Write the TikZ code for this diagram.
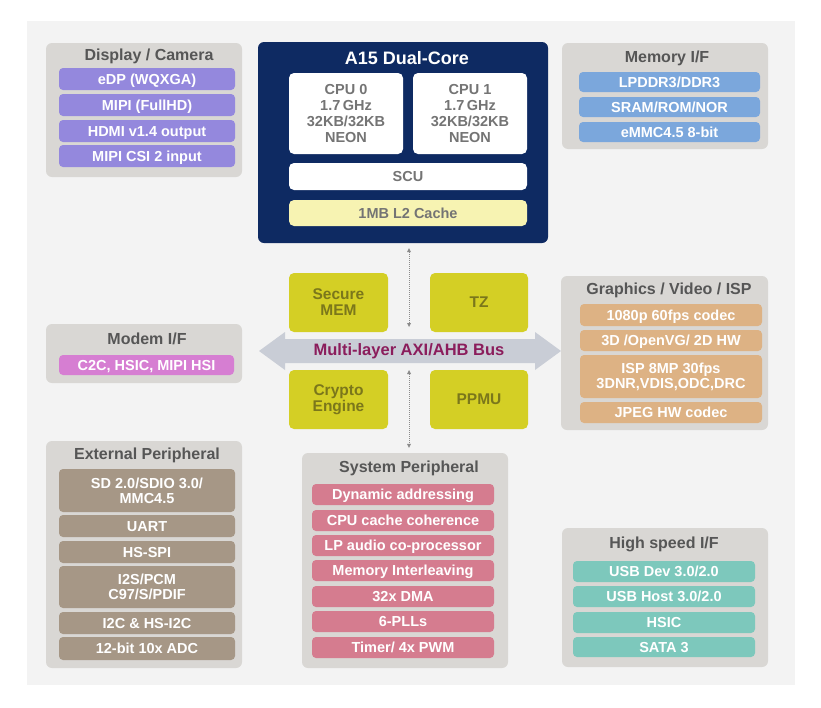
\documentclass[tikz,border=0pt]{standalone}
\usepackage{fontspec}
\setmainfont{Liberation Sans}
\usetikzlibrary{arrows.meta}
\definecolor{bgc}{HTML}{F3F3F3}
\definecolor{panelc}{HTML}{D9D7D4}
\definecolor{titlec}{HTML}{565656}
\definecolor{dispc}{HTML}{9488DD}
\definecolor{memc}{HTML}{7BA7DC}
\definecolor{modc}{HTML}{D67ED2}
\definecolor{gfxc}{HTML}{DDB284}
\definecolor{extc}{HTML}{A69786}
\definecolor{sysc}{HTML}{D57C8F}
\definecolor{hsc}{HTML}{7DC8BC}
\definecolor{navyc}{HTML}{0E2A62}
\definecolor{l2c}{HTML}{F7F3B2}
\definecolor{yelc}{HTML}{D4CF25}
\definecolor{yeltc}{HTML}{7B771B}
\definecolor{busc}{HTML}{C9CDD6}
\definecolor{bustc}{HTML}{8B1D5C}
\definecolor{cputc}{HTML}{747474}
\definecolor{dotc}{HTML}{8A8A8A}
\newcommand\mybox[7]{\node[#1, minimum width={#4pt-#3pt}, minimum height={#6pt-#5pt}] (#2) at ({(#3+#4)/2},{(#5+#6)/2}) {#7};}
\tikzset{
  panel/.style={fill=panelc, rounded corners=6pt, inner sep=0pt},
  ptitle/.style={text=titlec, font=\fontsize{16}{18}\selectfont\bfseries, inner sep=0pt},
  item/.style={rounded corners=4pt, inner sep=0pt, text=white, align=center,
    font=\fontsize{14.5}{15}\selectfont\bfseries, text height=10.5pt, text depth=0pt},
  twoline/.style={text height=, text depth=},
  cpubox/.style={fill=white, rounded corners=5pt, inner sep=0pt, text=cputc, align=center,
    font=\fontsize{14.5}{16}\selectfont\bfseries},
  yelbox/.style={fill=yelc, rounded corners=5pt, inner sep=0pt, text=yeltc, align=center,
    font=\fontsize{15.5}{16}\selectfont\bfseries},
  dotarr/.style={draw=dotc, line width=0.8pt, dash pattern=on 1pt off 1pt,
    {Triangle[length=4pt,width=4pt,fill=dotc,line width=0pt]}-{Triangle[length=4pt,width=4pt,fill=dotc,line width=0pt]}}
}
\begin{document}
\begin{tikzpicture}[x=1pt,y=-1pt]
\useasboundingbox (0,0) rectangle (821,707);
\fill[white] (0,0) rectangle (821,707);
\fill[bgc] (27,21) rectangle (795,685);

% Display / Camera
\mybox{panel}{disp}{46}{242}{43}{177}{}
\node[ptitle] (dispt) at (149,56) {Display / Camera};
\mybox{item,fill=dispc}{d1}{59}{235}{68}{90}{eDP (WQXGA)}
\mybox{item,fill=dispc}{d2}{59}{235}{94}{116}{MIPI (FullHD)}
\mybox{item,fill=dispc}{d3}{59}{235}{120}{142}{HDMI v1.4 output}
\mybox{item,fill=dispc}{d4}{59}{235}{145}{167}{MIPI CSI 2 input}

% Modem I/F
\mybox{panel}{mod}{46}{242}{324}{383}{}
\node[ptitle] (modt) at (147,339) {Modem I/F};
\mybox{item,fill=modc}{m1}{59}{234}{355}{375}{C2C, HSIC, MIPI HSI}

% External Peripheral
\mybox{panel}{ext}{46}{242}{441}{668}{}
\node[ptitle] (extt) at (147,455) {External Peripheral};
\mybox{item,twoline,fill=extc}{e1}{59}{235}{469}{512}{SD 2.0/SDIO 3.0/\\MMC4.5}
\mybox{item,fill=extc}{e2}{59}{235}{515}{537}{UART}
\mybox{item,fill=extc}{e3}{59}{235}{541}{563}{HS-SPI}
\mybox{item,twoline,fill=extc}{e4}{59}{235}{566}{608}{I2S/PCM\\C97/S/PDIF}
\mybox{item,fill=extc}{e5}{59}{235}{612}{634}{I2C \& HS-I2C}
\mybox{item,fill=extc}{e6}{59}{235}{637}{660}{12-bit 10x ADC}

% A15 Dual-Core
\mybox{fill=navyc,rounded corners=6pt,inner sep=0pt}{a15}{258}{548}{42}{243}{}
\node[text=white, font=\fontsize{18}{20}\selectfont\bfseries, inner sep=0pt] (a15t) at (407,58) {A15 Dual-Core};
\mybox{cpubox}{cpu0}{289}{403}{73}{154}{CPU 0\\1.7\,GHz\\32KB/32KB\\NEON}
\mybox{cpubox}{cpu1}{413}{527}{73}{154}{CPU 1\\1.7\,GHz\\32KB/32KB\\NEON}
\mybox{cpubox,text height=10.5pt,text depth=0pt}{scu}{289}{527}{163}{190}{SCU}
\mybox{cpubox,fill=l2c,text height=10.5pt,text depth=0pt}{l2}{289}{527}{200}{226}{1MB L2 Cache}

% Security blocks
\mybox{yelbox}{smem}{289}{388}{273}{332}{Secure\\MEM}
\mybox{yelbox}{tz}{430}{528}{273}{332}{TZ}
\mybox{yelbox}{crypto}{289}{388}{370}{429}{Crypto\\Engine}
\mybox{yelbox}{ppmu}{430}{528}{370}{429}{PPMU}

% Bus
\fill[busc] (259,351) -- (285,332) -- (285,339) -- (535,339) -- (535,332) -- (561,351)
  -- (535,370) -- (535,363) -- (285,363) -- (285,370) -- cycle;
\node[text=bustc, font=\fontsize{16.5}{18}\selectfont\bfseries, inner sep=0pt] (bus) at (409,351) {Multi-layer AXI/AHB Bus};
\coordinate (busN) at (409,327);
\coordinate (busS) at (409,370);

% Memory I/F
\mybox{panel}{mem}{562}{768}{43}{149}{}
\node[ptitle] (memt) at (667,58) {Memory I/F};
\mybox{item,fill=memc}{mm1}{579}{760}{72}{92}{LPDDR3/DDR3}
\mybox{item,fill=memc}{mm2}{579}{760}{97}{117}{SRAM/ROM/NOR}
\mybox{item,fill=memc}{mm3}{579}{760}{122}{142}{eMMC4.5 8-bit}

% Graphics / Video / ISP
\mybox{panel}{gfx}{561}{768}{276}{430}{}
\node[ptitle] (gfxt) at (669,290) {Graphics / Video / ISP};
\mybox{item,fill=gfxc}{g1}{580}{762}{304}{326}{1080p 60fps codec}
\mybox{item,fill=gfxc}{g2}{580}{762}{330}{351}{3D /OpenVG/ 2D HW}
\mybox{item,twoline,fill=gfxc}{g3}{580}{762}{355}{398}{ISP 8MP 30fps\\3DNR,VDIS,ODC,DRC}
\mybox{item,fill=gfxc}{g4}{580}{762}{402}{423}{JPEG HW codec}

% System Peripheral
\mybox{panel}{sys}{302}{508}{453}{668}{}
\node[ptitle] (syst) at (409,468) {System Peripheral};
\mybox{item,fill=sysc}{s1}{312}{494}{484}{505}{Dynamic addressing}
\mybox{item,fill=sysc}{s2}{312}{494}{510}{531}{CPU cache coherence}
\mybox{item,fill=sysc}{s3}{312}{494}{535}{556}{LP audio co-processor}
\mybox{item,fill=sysc}{s4}{312}{494}{560}{581}{Memory Interleaving}
\mybox{item,fill=sysc}{s5}{312}{494}{586}{607}{32x DMA}
\mybox{item,fill=sysc}{s6}{312}{494}{611}{632}{6-PLLs}
\mybox{item,fill=sysc}{s7}{312}{494}{637}{658}{Timer/ 4x PWM}

% High speed I/F
\mybox{panel}{hs}{562}{768}{528}{667}{}
\node[ptitle] (hst) at (664,544) {High speed I/F};
\mybox{item,fill=hsc}{h1}{573}{755}{561}{582}{USB Dev 3.0/2.0}
\mybox{item,fill=hsc}{h2}{573}{755}{586}{607}{USB Host 3.0/2.0}
\mybox{item,fill=hsc}{h3}{573}{755}{612}{633}{HSIC}
\mybox{item,fill=hsc}{h4}{573}{755}{637}{657}{SATA 3}

% dotted connectors
\draw[dotarr, shorten <=5pt] ([xshift=6pt]a15.south) -- (busN);
\draw[dotarr, shorten >=5pt] (busS) -- ([xshift=4pt]sys.north);
\end{tikzpicture}
\end{document}
